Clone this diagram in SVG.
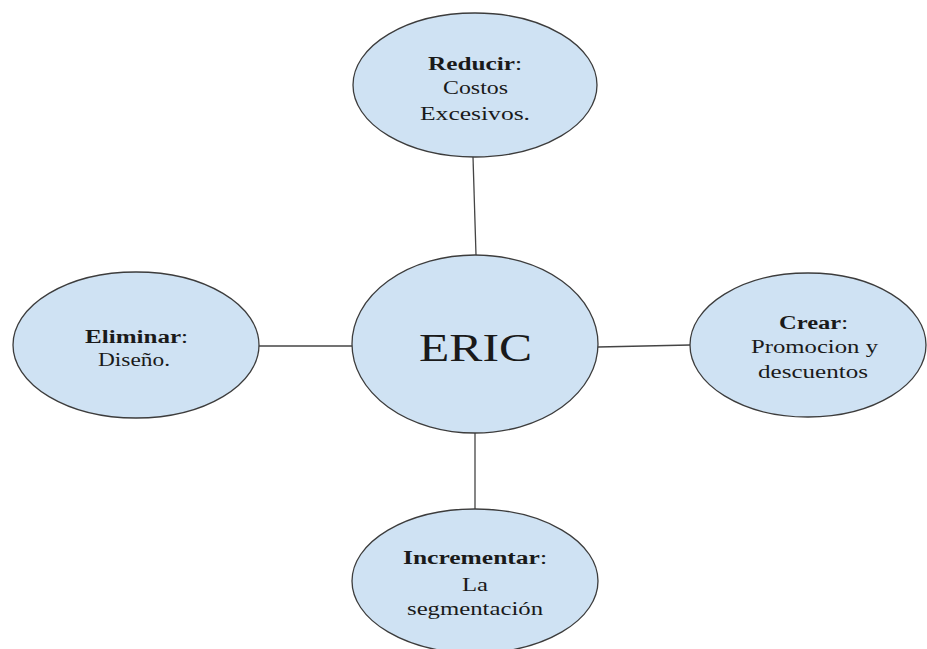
<svg xmlns="http://www.w3.org/2000/svg" width="927" height="649" viewBox="0 0 927 649">
<style>
.node ellipse{fill:#cfe2f3;stroke:#3c3c3c;stroke-width:1.3}
.conn line{stroke:#444;stroke-width:1.3}
text{font-family:"Liberation Serif","Times New Roman",serif;font-size:18.5px;fill:#1a1a1a;text-anchor:middle}
.b{font-weight:bold}
.big{font-size:41px}
</style>
<rect width="927" height="649" fill="#ffffff"/>
<g id="connectors" class="conn">
<line x1="473" y1="157" x2="476" y2="255"/>
<line x1="259" y1="346" x2="352" y2="346"/>
<line x1="598" y1="347" x2="690" y2="345"/>
<line x1="475" y1="433" x2="475" y2="509"/>
</g>
<g id="reducir" class="node">
<ellipse cx="475" cy="85" rx="122" ry="72"/>
<text x="475" y="70" textLength="94" lengthAdjust="spacingAndGlyphs"><tspan class="b">Reducir</tspan>:</text>
<text x="475.5" y="94" textLength="65" lengthAdjust="spacingAndGlyphs">Costos</text>
<text x="475" y="120" textLength="110" lengthAdjust="spacingAndGlyphs">Excesivos.</text>
</g>
<g id="eric" class="node">
<ellipse cx="475" cy="344" rx="123" ry="89"/>
<text class="big" x="475.5" y="361" textLength="113" lengthAdjust="spacingAndGlyphs">ERIC</text>
</g>
<g id="eliminar" class="node">
<ellipse cx="136" cy="345" rx="123" ry="73"/>
<text x="136.5" y="343" textLength="103" lengthAdjust="spacingAndGlyphs"><tspan class="b">Eliminar</tspan>:</text>
<text x="134" y="366" textLength="72" lengthAdjust="spacingAndGlyphs">Diseño.</text>
</g>
<g id="crear" class="node">
<ellipse cx="808" cy="345" rx="118" ry="72"/>
<text x="813.5" y="329" textLength="69" lengthAdjust="spacingAndGlyphs"><tspan class="b">Crear</tspan>:</text>
<text x="814.5" y="353" textLength="127" lengthAdjust="spacingAndGlyphs">Promocion y</text>
<text x="813" y="378" textLength="110" lengthAdjust="spacingAndGlyphs">descuentos</text>
</g>
<g id="incrementar" class="node">
<ellipse cx="475" cy="581" rx="123" ry="72"/>
<text x="475" y="564" textLength="144" lengthAdjust="spacingAndGlyphs"><tspan class="b">Incrementar</tspan>:</text>
<text x="475" y="591" textLength="26" lengthAdjust="spacingAndGlyphs">La</text>
<text x="475" y="615" textLength="136" lengthAdjust="spacingAndGlyphs">segmentación</text>
</g>
</svg>
